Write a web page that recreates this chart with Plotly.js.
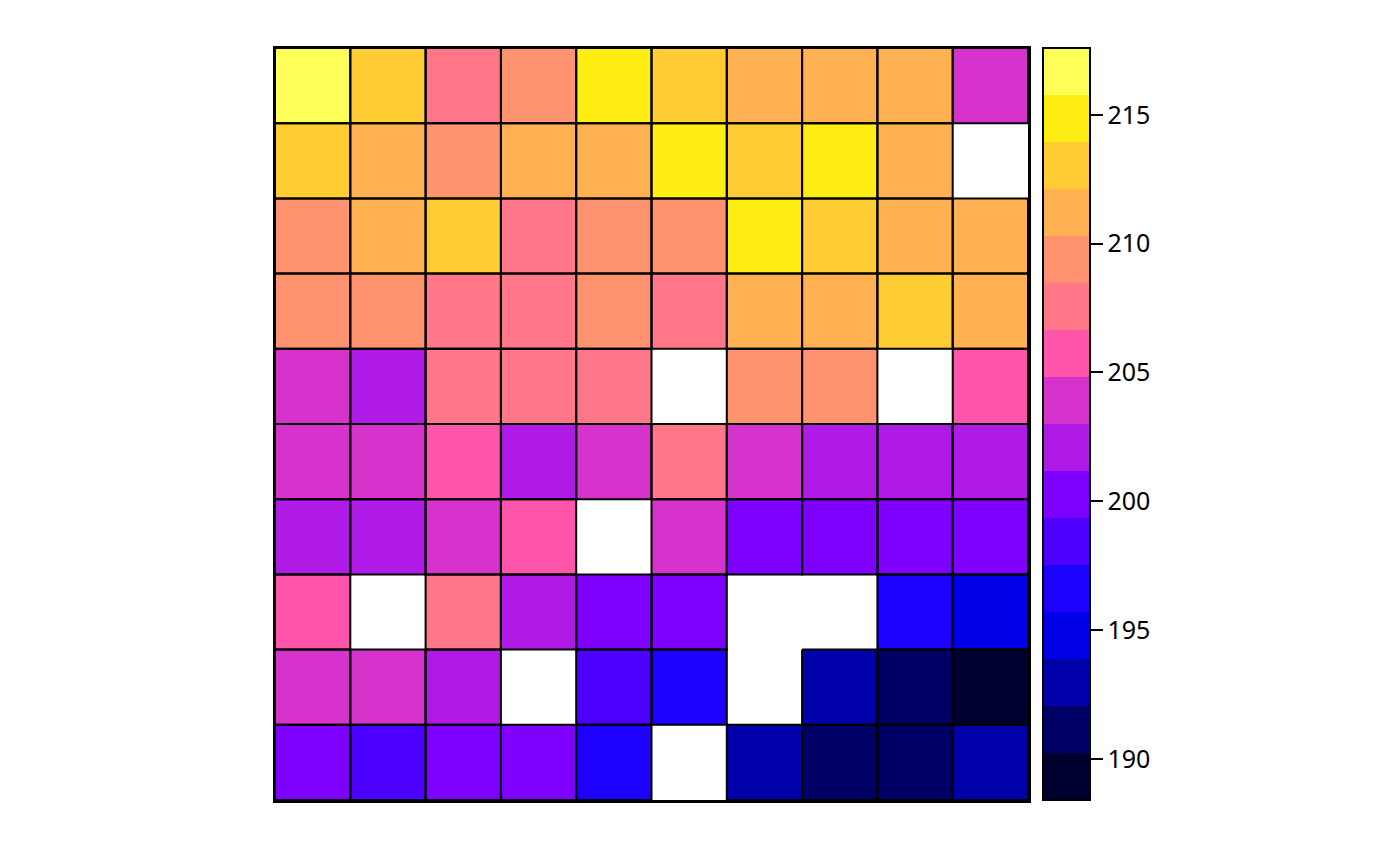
<!DOCTYPE html>
<html>
<head>
<meta charset="utf-8">
<script src="https://cdn.plot.ly/plotly-3.0.1.min.js"></script>
<style>html,body{margin:0;padding:0;background:#fff;}#chart{width:1400px;height:865px;}</style>
</head>
<body>
<div id="chart"></div>
<script>
// Column and row positions of the grid
const cols = [1, 2, 3, 4, 5, 6, 7, 8, 9, 10];
const rows = [1, 2, 3, 4, 5, 6, 7, 8, 9, 10]; // row 1 = top

// Cell values, listed top row first (null = missing)
const row1  = [217.6, 213.2, 207.8, 209.3, 215.0, 212.8, 211.4, 211.0, 211.2, 203.7];
const row2  = [213.3, 211.1, 209.5, 211.5, 210.9, 214.7, 212.9, 215.1, 211.3, null];
const row3  = [209.2, 211.0, 213.0, 207.4, 209.6, 209.0, 214.9, 213.4, 211.6, 211.2];
const row4  = [209.4, 209.1, 207.7, 207.3, 209.7, 207.9, 210.8, 211.4, 212.7, 211.1];
const row5  = [204.0, 202.2, 207.5, 207.6, 207.2, null, 209.3, 209.8, null, 205.6];
const row6  = [203.8, 204.2, 205.9, 201.9, 203.6, 207.4, 204.1, 202.3, 202.0, 201.8];
const row7  = [202.1, 202.4, 203.7, 205.5, null, 203.9, 200.3, 200.5, 200.1, 200.4];
const row8  = [205.8, null, 207.6, 202.2, 200.0, 200.2, null, null, 196.7, 194.6];
const row9  = [204.0, 203.8, 201.9, null, 198.5, 196.4, null, 192.8, 191.0, 188.4];
const row10 = [199.8, 198.2, 199.7, 199.9, 196.8, null, 193.1, 190.8, 191.2, 192.9];

// Colour bands (low to high)
const bandColors = ["#000030", "#000066", "#0000AA", "#0000E6", "#1E00FF", "#4C00FF",
  "#7F00FF", "#B01AE6", "#D633CC", "#FF55AA", "#FF7788", "#FF9370",
  "#FFB050", "#FFCC33", "#FFEE14", "#FFFF5A"];

// Colorbar tick values
const tickValues = [190, 195, 200, 205, 210, 215];

const z = [row1, row2, row3, row4, row5, row6, row7, row8, row9, row10];

const n = bandColors.length;
const colorscale = [];
bandColors.forEach((c, i) => {
  colorscale.push([i / n, c]);
  colorscale.push([(i + 1) / n, c]);
});

const flat = z.flat().filter(v => v !== null);
const zmin = Math.min(...flat), zmax = Math.max(...flat);

// Outline of every non-missing cell, built from the data grid
const bx = [], by = [];
z.forEach((r, i) => r.forEach((v, j) => {
  if (v === null) return;
  const x = cols[j], y = rows[i];
  bx.push(x - 0.5, x + 0.5, x + 0.5, x - 0.5, x - 0.5, null);
  by.push(y - 0.5, y - 0.5, y + 0.5, y + 0.5, y - 0.5, null);
}));

const heat = {
  type: "heatmap",
  x: cols, y: rows, z: z,
  zmin: zmin, zmax: zmax,
  colorscale: colorscale,
  hoverongaps: false,
  colorbar: {
    x: 1.0199, xanchor: "left", xpad: 0,
    y: 0.5, yanchor: "middle", ypad: 0,
    len: 1, lenmode: "fraction",
    thickness: 47, thicknessmode: "pixels",
    outlinewidth: 2, outlinecolor: "#000",
    tickmode: "array", tickvals: tickValues,
    ticks: "outside", ticklen: 12, tickwidth: 2, tickcolor: "#000",
    tickprefix: " ",
    tickfont: {family: "Noto Sans, Open Sans, sans-serif", size: 25, color: "#000"}
  }
};

const borders = {
  type: "scatter", mode: "lines",
  x: bx, y: by,
  line: {color: "#000", width: 2},
  hoverinfo: "skip", showlegend: false
};

const axisCommon = {
  showgrid: false, zeroline: false, showticklabels: false, ticks: "",
  showline: true, mirror: true, linecolor: "#000", linewidth: 2.5
};

const layout = {
  width: 1400, height: 865,
  margin: {l: 275, r: 372, t: 48, b: 65},
  paper_bgcolor: "#fff", plot_bgcolor: "#fff",
  showlegend: false,
  xaxis: Object.assign({range: [0.5, 10.5]}, axisCommon),
  yaxis: Object.assign({range: [10.5, 0.5]}, axisCommon)
};

Plotly.newPlot("chart", [heat, borders], layout, {displayModeBar: false, staticPlot: true});
</script>
</body>
</html>
